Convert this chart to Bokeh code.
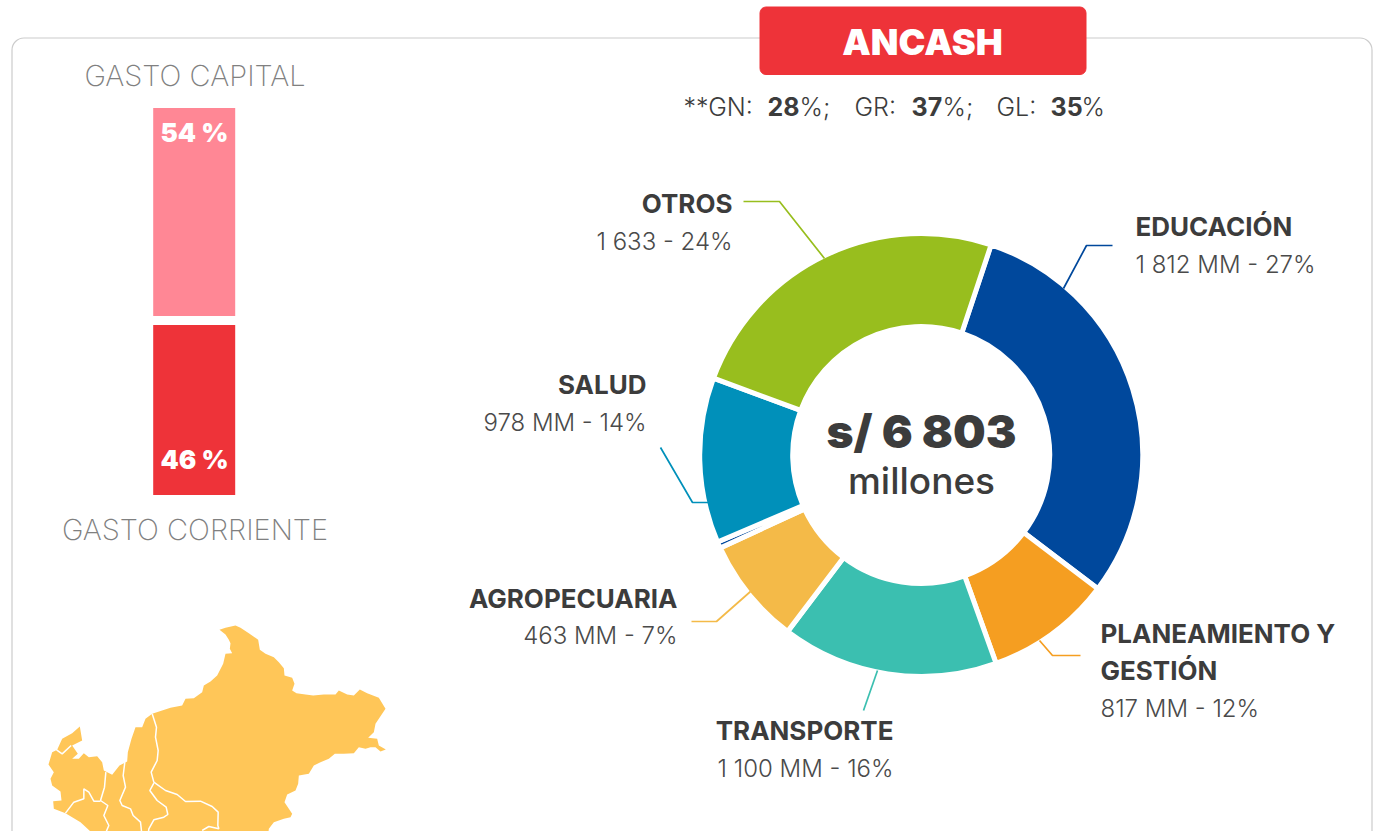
from math import pi
from bokeh.plotting import figure
from bokeh.models import BoxAnnotation, Range1d, ColumnDataSource
from bokeh.core.properties import value
from bokeh.embed import file_html
from bokeh.resources import INLINE

# ---- data
slice_names = ["EDUCACIÓN", "PLANEAMIENTO", "TRANSPORTE", "AGROPECUARIA", "OTRO MENOR", "SALUD", "OTROS"]
slice_share = [30.2, 9.2, 15.8, 7.8, 0.46, 12.07, 24.47]
slice_color = ["#00489C", "#F59E21", "#3BBFB0", "#F4BA48", "#00489C", "#0090BA", "#98BE1E"]
start_deg = 18.4
gasto_share = [54, 46]
gasto_pct_px = 3.78

map_outline = [(657,118),(675,112),(705,105),(720,112),(745,128),(773,148),(778,178),(795,190),(820,200),(835,215),(850,233),(852,255),(875,262),(882,280),(875,300),(888,308),(915,312),(938,315),(970,312),(1005,312),(1015,300),(1040,312),(1060,315),(1078,297),(1100,308),(1135,322),(1155,355),(1138,380),(1125,400),(1120,425),(1103,442),(1130,445),(1135,465),(1156,477),(1140,483),(1125,470),(1110,470),(1095,475),(1075,470),(1060,488),(1030,490),(1003,490),(985,505),(960,515),(940,525),(925,550),(895,555),(893,580),(885,600),(860,612),(852,635),(875,670),(870,680),(850,685),(820,695),(805,715),(800,760),(300,760),(270,723),(240,695),(195,668),(160,655),(158,632),(183,630),(180,603),(155,585),(150,565),(160,545),(144,522),(155,485),(170,478),(185,445),(215,428),(238,408),(245,450),(215,465),(232,490),(215,505),(235,505),(250,488),(265,500),(290,497),(305,515),(310,540),(335,553),(357,525),(380,513),(382,485),(393,445),(405,410),(425,410),(435,385),(455,370),(510,352),(545,345),(555,325),(580,323),(605,305),(610,285),(630,273),(650,255),(668,220),(675,190),(695,188),(688,175),(690,158),(685,148),(675,132)]
map_borders = [
    [(455,370),(468,410),(465,440),(473,480),(470,510),(452,545),(460,575),(495,600),(530,612),(555,633),(600,632),(635,648),(653,665),(652,705),(655,715),(625,708),(605,720)],
    [(460,578),(448,600),(470,630),(497,650),(502,672),(490,680),(460,688),(445,715),(442,740)],
    [(373,515),(368,555),(375,590),(358,630),(365,645),(390,655),(398,675),(420,695),(425,740)],
    [(316,545),(312,590),(300,630),(322,645),(310,675),(325,705),(310,740)],
    [(300,632),(280,632),(265,605),(250,595),(250,625),(220,635),(195,668)],
    [(168,478),(185,490),(212,465)],
]

leaders = [
    ("#98BE1E", [(743,201),(779,201),(824,258)]),
    ("#00489C", [(1112,245),(1086,245),(1063,288)]),
    ("#F59E21", [(1080,655),(1052,655),(1039,640)]),
    ("#3BBFB0", [(877,670),(863,710)]),
    ("#F4BA48", [(691,621),(716,621),(750,591)]),
    ("#0090BA", [(660,447),(692,502),(708,502)]),
]

INK = "#3c3c3c"
BOLD = "Inter"
LIGHT = "Inter Light"
BLACK = "Inter Black"

W, H = 1378, 831
p = figure(width=W, height=H, output_backend="svg", toolbar_location=None,
           x_range=Range1d(0, W), y_range=Range1d(0, H),
           min_border=0, outline_line_color=None)
p.axis.visible = False
p.grid.visible = False
p.background_fill_color = "white"
p.border_fill_color = "white"


def Y(py):
    return 831 - py


def put(x, y, s, size, color=INK, font=BOLD, style="bold", align="left"):
    r = p.text([x], [Y(y)], text=[s], text_font=value(font), text_font_style=style,
               text_font_size=f"{size}px", text_color=color, text_align=align,
               text_baseline="middle")
    r.level = "overlay"


# card
p.add_layout(BoxAnnotation(left=11.5, right=1371.5, top=Y(37.5), bottom=Y(900), fill_alpha=0,
                           line_color="#cccccc", line_alpha=1, line_width=1.2, border_radius=12, level="underlay"))

# map
p.patch([a / 3 for a, b in map_outline], [Y(590 + b / 3) for a, b in map_outline], color="#FFC658", line_width=0)
for b in map_borders:
    p.line([q[0] / 3 for q in b], [Y(590 + q[1] / 3) for q in b], line_color="white", line_width=1.5)

# stacked bar
pink_top = 107.5
pink_bottom = pink_top + gasto_share[0] * gasto_pct_px * 1.019
red_top = pink_bottom + 9
red_bottom = red_top + gasto_share[1] * gasto_pct_px * 0.978
p.quad(left=[152.7], right=[234.7], top=[Y(pink_top)], bottom=[Y(pink_bottom)], color="#FF8795", line_width=0)
p.quad(left=[152.7], right=[234.7], top=[Y(red_top)], bottom=[Y(red_bottom)], color="#EE3339", line_width=0)
put(194, 132, f"{gasto_share[0]} %", 26, "white", BLACK, "normal", "center")
put(194, 459, f"{gasto_share[1]} %", 26, "white", BLACK, "normal", "center")
put(194.5, 75, "GASTO CAPITAL", 29, "#808080", "Inter ExtraLight", "normal", "center")
put(194.5, 529, "GASTO CORRIENTE", 29, "#808080", "Inter ExtraLight", "normal", "center")

# donut
ends, cum = [], start_deg
starts = []
for s in slice_share:
    starts.append(cum)
    cum += s * 3.6
    ends.append(cum)
src = ColumnDataSource(dict(
    x=[920.7] * len(starts), y=[Y(454.5)] * len(starts),
    s=[(90 - e) * pi / 180 for e in ends], e=[(90 - b) * pi / 180 for b in starts],
    c=slice_color))
p.annular_wedge(x="x", y="y", inner_radius=128.5, outer_radius=221.5, start_angle="s", end_angle="e",
                direction="anticlock", fill_color="c", line_color="white", line_width=5, source=src)

for c, pts in leaders:
    p.line([a for a, b in pts], [Y(b) for a, b in pts], line_color=c, line_width=1.7)

put(921, 430, "s/ 6 803", 46, INK, BLACK, "normal", "center")
put(921, 480, "millones", 37, INK, "Inter Medium", "normal", "center")

# header
p.add_layout(BoxAnnotation(left=759.5, right=1085.5, top=Y(6.5), bottom=Y(74), fill_color="#EE3339", fill_alpha=1,
                           line_color="#EE3339", line_alpha=1, border_radius=6, level="glyph"))
put(922, 41, "ANCASH", 36, "white", BLACK, "normal", "center")

for x, s, st, f in [(683, "**GN:", "normal", LIGHT), (767, "28", "bold", BOLD), (799, "%;", "normal", LIGHT),
                    (854, "GR:", "normal", LIGHT), (911, "37", "bold", BOLD), (942, "%;", "normal", LIGHT),
                    (996, "GL:", "normal", LIGHT), (1050, "35", "bold", BOLD), (1081, "%", "normal", LIGHT)]:
    put(x, 106, s, 25, INK, f, st)

# labels
LBL = 26
for x, y, s, a in [(732, 203, "OTROS", "right"), (1135, 226, "EDUCACIÓN", "left"), (646, 384, "SALUD", "right"),
                   (677, 598, "AGROPECUARIA", "right"), (1100, 633, "PLANEAMIENTO Y", "left"),
                   (1100, 670, "GESTIÓN", "left"), (893, 730, "TRANSPORTE", "right")]:
    put(x, y, s, LBL, INK, BOLD, "bold", a)
for x, y, s, a in [(732, 241, "1 633 - 24%", "right"), (1135, 264, "1 812 MM - 27%", "left"),
                   (646, 422, "978 MM - 14%", "right"), (677, 635, "463 MM - 7%", "right"),
                   (1100, 708, "817 MM - 12%", "left"), (893, 768, "1 100 MM - 16%", "right")]:
    put(x, y, s, 24, "#4a4a4a", LIGHT, "normal", a)

open("out.html", "w").write(file_html(p, INLINE))
